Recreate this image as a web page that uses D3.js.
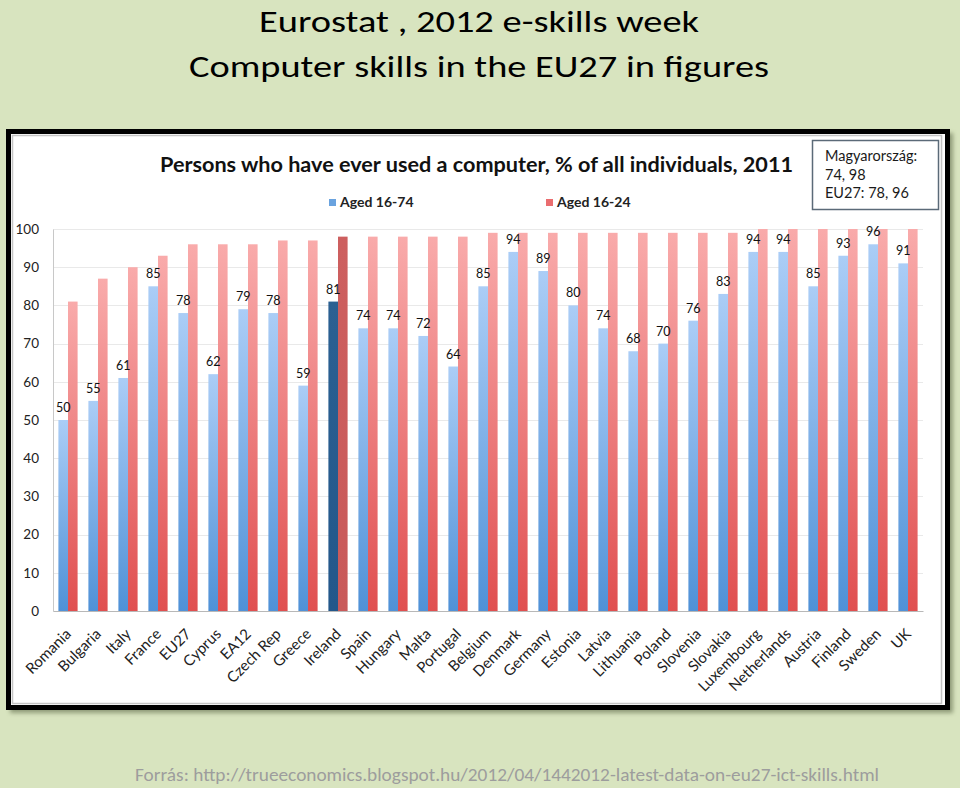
<!DOCTYPE html>
<html>
<head>
<meta charset="utf-8">
<script src="https://cdn.jsdelivr.net/npm/d3@7"></script>
<style>
  html, body { margin: 0; padding: 0; background: #d8e4bf; }
  svg { display: block; }
</style>
</head>
<body>
<svg id="chart" width="960" height="788"></svg>
<script>
const categories = ["Romania","Bulgaria","Italy","France","EU27","Cyprus","EA12","Czech Rep","Greece","Ireland","Spain","Hungary","Malta","Portugal","Belgium","Denmark","Germany","Estonia","Latvia","Lithuania","Poland","Slovenia","Slovakia","Luxembourg","Netherlands","Austria","Finland","Sweden","UK"];
const aged1674 = [50,55,61,85,78,62,79,78,59,81,74,74,72,64,85,94,89,80,74,68,70,76,83,94,94,85,93,96,91];
const aged1624 = [81,87,90,93,96,96,96,97,97,98,98,98,98,98,99,99,99,99,99,99,99,99,99,100,100,100,100,100,100];
const seriesNames = ["Aged 16-74","Aged 16-24"];
const highlighted = "Ireland";
const yTicks = [0,10,20,30,40,50,60,70,80,90,100];
const titleLines = ["Eurostat , 2012 e-skills week","Computer skills in the EU27 in figures"];
const chartTitle = "Persons who have ever used a computer, % of all individuals, 2011";
const noteLines = ["Magyarország:","74, 98","EU27: 78, 96"];
const sourceText = "Forrás: http://trueeconomics.blogspot.hu/2012/04/1442012-latest-data-on-eu27-ict-skills.html";

const svg = d3.select("#chart");
const FONT = "Lato, 'Open Sans', sans-serif";

const defs = svg.append("defs");
function grad(id, top, bottom) {
  const g = defs.append("linearGradient").attr("id", id).attr("x1",0).attr("y1",0).attr("x2",0).attr("y2",1);
  g.append("stop").attr("offset","0%").attr("stop-color", top);
  g.append("stop").attr("offset","100%").attr("stop-color", bottom);
}
grad("gBlue", "#abcdf6", "#4f91d7");
grad("gRed", "#f9abab", "#e04f50");
grad("gBlueHi", "#2b6092", "#23578a");
grad("gRedHi", "#cd5f5f", "#c95a5a");
const f = defs.append("filter").attr("id","shadow").attr("x","-5%").attr("y","-5%").attr("width","110%").attr("height","110%");
f.append("feGaussianBlur").attr("stdDeviation", 2);

// Page titles
svg.selectAll("text.maintitle").data(titleLines).join("text")
  .attr("class","maintitle")
  .attr("x", 479).attr("y", (d,i) => i === 0 ? 31.5 : 77)
  .attr("text-anchor","middle")
  .attr("font-family","Carlito, Lato, sans-serif")
  .attr("font-size", 31)
  .attr("fill","#000")
  .attr("textLength", (d,i) => i === 0 ? 440 : 580)
  .attr("lengthAdjust","spacingAndGlyphs")
  .text(d => d);

// Frame with shadow
svg.append("rect").attr("x", 10).attr("y", 133).attr("width", 943).attr("height", 580)
  .attr("fill", "#556040").attr("opacity", 0.55).attr("filter","url(#shadow)");
svg.append("rect").attr("x", 8.5).attr("y", 131.5).attr("width", 939).attr("height", 576)
  .attr("fill", "#fff").attr("stroke", "#000").attr("stroke-width", 5);
svg.append("rect").attr("x", 12.5).attr("y", 135.5).attr("width", 929).attr("height", 568)
  .attr("fill", "none").attr("stroke", "#c4c4c4").attr("stroke-width", 1.5);

// Chart title
svg.append("text").attr("x", 160).attr("y", 172)
  .attr("font-family", FONT).attr("font-weight", 700).attr("font-size", 21)
  .attr("fill", "#111")
  .attr("textLength", 633).attr("lengthAdjust","spacingAndGlyphs")
  .text(chartTitle);

// Scales
const x = d3.scaleBand().domain(categories).range([53, 923]).paddingInner(0.36).paddingOuter(0.18);
const xs = d3.scaleBand().domain(seriesNames).range([0, x.bandwidth()]);
const y = d3.scaleLinear().domain([0, 100]).range([611, 229]);

// Gridlines
svg.append("g").selectAll("line").data(yTicks.filter(t => t > 0)).join("line")
  .attr("x1", 53).attr("x2", 923)
  .attr("y1", d => Math.round(y(d)) + 0.5).attr("y2", d => Math.round(y(d)) + 0.5)
  .attr("stroke", "#e9e9e9").attr("stroke-width", 1);

// Y axis
const yAxis = svg.append("g").attr("transform", "translate(53,0)")
  .call(d3.axisLeft(y).tickValues(yTicks).tickSize(0).tickPadding(14));
yAxis.select(".domain").attr("stroke", "#c8c8c8");
yAxis.selectAll("text").attr("font-family", FONT).attr("font-size", 13.5).attr("fill", "#222");

// Bars
const groups = svg.append("g").selectAll("g").data(categories).join("g")
  .attr("transform", d => `translate(${x(d)},0)`);
groups.append("rect")
  .attr("x", xs("Aged 16-74")).attr("width", xs.bandwidth())
  .attr("y", (d,i) => y(aged1674[i])).attr("height", (d,i) => y(0) - y(aged1674[i]))
  .attr("fill", d => d === highlighted ? "url(#gBlueHi)" : "url(#gBlue)");
groups.append("rect")
  .attr("x", xs("Aged 16-24")).attr("width", xs.bandwidth())
  .attr("y", (d,i) => y(aged1624[i])).attr("height", (d,i) => y(0) - y(aged1624[i]))
  .attr("fill", d => d === highlighted ? "url(#gRedHi)" : "url(#gRed)");
groups.append("text")
  .attr("x", xs("Aged 16-74") + xs.bandwidth() / 2)
  .attr("y", (d,i) => y(aged1674[i]) - 8)
  .attr("text-anchor", "middle")
  .attr("font-family", FONT).attr("font-size", 12.5).attr("fill", "#111")
  .text((d,i) => aged1674[i]);

// X axis
const xAxis = svg.append("g").attr("transform", "translate(0,611)")
  .call(d3.axisBottom(x).tickSize(0).tickPadding(0));
xAxis.select(".domain").attr("stroke", "#b8b8b8");
xAxis.selectAll("text")
  .attr("font-family", FONT).attr("font-size", 15).attr("fill", "#222")
  .attr("text-anchor", "end")
  .attr("dy", 0)
  .attr("y", 0)
  .attr("transform", "translate(4,24) rotate(-45)");

// Legend
const legend = svg.append("g");
const legendPos = [329, 546];
const legendColors = ["#6aa3df", "#ea6d6f"];
seriesNames.forEach((name, i) => {
  legend.append("rect").attr("x", legendPos[i]).attr("y", 199).attr("width", 7).attr("height", 7).attr("fill", legendColors[i]);
  legend.append("text").attr("x", legendPos[i] + 11).attr("y", 207)
    .attr("font-family", FONT).attr("font-weight", 700).attr("font-size", 14).attr("fill", "#222")
    .text(name);
});

// Note box
svg.append("rect").attr("x", 812.5).attr("y", 140.5).attr("width", 126).attr("height", 69)
  .attr("fill", "#fff").attr("stroke", "#5b6a78").attr("stroke-width", 1.5);
svg.selectAll("text.note").data(noteLines).join("text").attr("class","note")
  .attr("x", 825).attr("y", (d,i) => 161 + i * 18.5)
  .attr("font-family", FONT).attr("font-size", 14.5).attr("fill", "#1a1a1a")
  .text(d => d);

// Source
svg.append("text").attr("x", 135).attr("y", 781)
  .attr("font-family", "Carlito, Lato, sans-serif").attr("font-size", 19).attr("fill", "#9d9d9d")
  .attr("textLength", 744).attr("lengthAdjust","spacingAndGlyphs")
  .text(sourceText);
</script>
</body>
</html>
